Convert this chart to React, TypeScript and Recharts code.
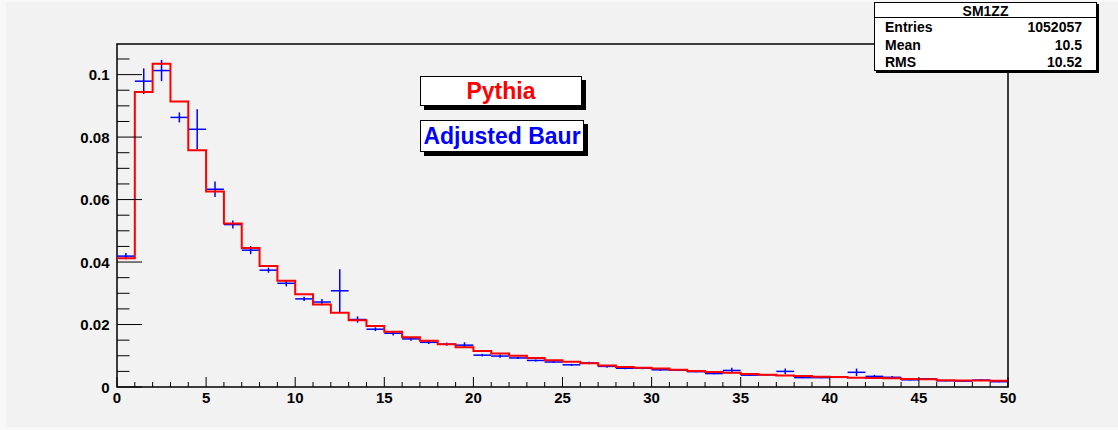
import React from 'react';
import {
  ComposedChart,
  Line,
  Scatter,
  ErrorBar,
  XAxis,
  YAxis,
  ReferenceArea,
} from 'recharts';

// bin contents, one per unit bin from 0 to 50
const pythia = [
  0.0412, 0.0944, 0.1035, 0.0914, 0.0758, 0.0626, 0.0523, 0.0445, 0.0387, 0.034,
  0.0297, 0.0264, 0.0238, 0.0214, 0.0195, 0.0177, 0.0159, 0.0148, 0.0137, 0.0127,
  0.0115, 0.0107, 0.01, 0.0093, 0.0086, 0.0081, 0.0076, 0.0069, 0.0064, 0.0062,
  0.0059, 0.0055, 0.0051, 0.0048, 0.0046, 0.0042, 0.0039, 0.0037, 0.0035, 0.0033,
  0.0032, 0.003, 0.0029, 0.0028, 0.0026, 0.0025, 0.0022, 0.0021, 0.0021, 0.002,
];

const baur = [
  0.0419, 0.0979, 0.1013, 0.0863, 0.0825, 0.0633, 0.052, 0.0438, 0.0374, 0.0332,
  0.0282, 0.0272, 0.0308, 0.0216, 0.0185, 0.0172, 0.0154, 0.0143, 0.0137, 0.0134,
  0.0102, 0.0099, 0.0093, 0.0085, 0.008, 0.0071, 0.0077, 0.0066, 0.006, 0.006,
  0.0055, 0.0054, 0.0049, 0.0043, 0.0053, 0.0038, 0.0039, 0.005, 0.003, 0.003,
  0.0031, 0.0047, 0.0034, 0.0031, 0.0023, 0.0026, 0.002, 0.0019, 0.0022, 0.0017,
];

const baurErr = [
  0.001, 0.0041, 0.0034, 0.0016, 0.0064, 0.0025, 0.0013, 0.0013, 0.0008, 0.001,
  0.0007, 0.001, 0.0069, 0.001, 0.0006, 0.0007, 0.0006, 0.0005, 0.0005, 0.0009,
  0.0004, 0.0005, 0.0003, 0.0003, 0.0003, 0.0003, 0.0004, 0.0004, 0.0003, 0.0003,
  0.0003, 0.0003, 0.0002, 0.0002, 0.0009, 0.0002, 0.0002, 0.0009, 0.0002, 0.0002,
  0.0002, 0.0012, 0.0005, 0.0004, 0.0002, 0.0002, 0.0002, 0.0002, 0.0003, 0.0002,
];

const xMajorTicks = [0, 5, 10, 15, 20, 25, 30, 35, 40, 45, 50];
const yMajorTicks = [0, 0.02, 0.04, 0.06, 0.08, 0.1];

const statLabels = ['Entries', 'Mean', 'RMS'];
const statValues = ['1052057', '10.5', '10.52'];

const X_MAX = 50;
const Y_MAX = 0.1098;
const FONT = '"Liberation Sans", Arial, sans-serif';

// histogram edges for the step line (last edge repeats the last bin)
const pythiaSteps = [...pythia, pythia[pythia.length - 1]].map((v, i) => ({ x: i, y: v }));
const baurPoints = baur.map((v, i) => ({ x: i + 0.5, y: v, ex: 0.5, ey: baurErr[i] }));

const xTicks = Array.from({ length: 51 }, (_, i) => i);
const yTicks = Array.from({ length: 22 }, (_, i) => (i * 5) / 1000);

const XTick = (props: any) => {
  const { x, y, payload } = props;
  const major = xMajorTicks.includes(payload.value);
  return (
    <g>
      <line x1={x} y1={y} x2={x} y2={y - (major ? 10 : 5)} stroke="#000" strokeWidth={1} />
      {major && (
        <text x={x} y={y + 16} textAnchor="middle" fontFamily={FONT} fontWeight="bold" fontSize={15} fill="#000">
          {payload.value}
        </text>
      )}
    </g>
  );
};

const YTick = (props: any) => {
  const { x, y, payload } = props;
  const major = yMajorTicks.some((t) => Math.abs(t - payload.value) < 1e-9);
  return (
    <g>
      <line x1={x} y1={y} x2={x + (major ? 25 : 12.5)} y2={y} stroke="#000" strokeWidth={1} />
      {major && (
        <text x={x - 7.5} y={y + 5.5} textAnchor="end" fontFamily={FONT} fontWeight="bold" fontSize={15} fill="#000">
          {String(payload.value)}
        </text>
      )}
    </g>
  );
};

const legendBox = (label: string, color: string, top: number, width: number, height: number) => (
  <div
    style={{
      position: 'absolute',
      left: 420,
      top,
      width,
      height,
      boxSizing: 'border-box',
      background: '#fff',
      border: '1px solid #000',
      boxShadow: '4px 4px 0 #000',
      color,
      fontFamily: FONT,
      fontWeight: 'bold',
      fontSize: 23,
      lineHeight: `${height - 2}px`,
      textAlign: 'center',
      whiteSpace: 'nowrap',
    }}
  >
    {label}
  </div>
);

export default function App() {
  return (
    <div style={{ position: 'absolute', left: 0, top: 0, width: 1118, height: 430, background: '#f8f8f8' }}>
      <div style={{ position: 'absolute', left: 6, top: 2, width: 1112, height: 425, background: '#f2f2f2' }} />
      <div style={{ position: 'absolute', left: 0, top: 0 }}>
        <ComposedChart width={1118} height={430} margin={{ top: 44, right: 110, left: 0, bottom: 0 }}>
          <XAxis
            dataKey="x"
            type="number"
            domain={[0, X_MAX]}
            ticks={xTicks}
            interval={0}
            allowDataOverflow
            axisLine={false}
            tickLine={false}
            tickSize={0}
            tickMargin={0}
            height={43}
            tick={<XTick />}
          />
          <YAxis
            type="number"
            domain={[0, Y_MAX]}
            ticks={yTicks}
            interval={0}
            allowDataOverflow
            axisLine={false}
            tickLine={false}
            tickSize={0}
            tickMargin={0}
            width={117}
            tick={<YTick />}
          />
          <ReferenceArea
            x1={0}
            x2={X_MAX}
            y1={0}
            y2={Y_MAX}
            fill="none"
            fillOpacity={0}
            stroke="#000"
            strokeWidth={1.5}
            ifOverflow="visible"
          />
          <Scatter data={baurPoints} dataKey="y" isAnimationActive={false} shape={() => <g />}>
            <ErrorBar dataKey="ex" direction="x" width={0} stroke="#0000ff" strokeWidth={1.5} />
            <ErrorBar dataKey="ey" direction="y" width={0} stroke="#0000ff" strokeWidth={1.5} />
          </Scatter>
          <Line
            data={pythiaSteps}
            dataKey="y"
            type="stepAfter"
            stroke="#ff0000"
            strokeWidth={2}
            dot={false}
            activeDot={false}
            isAnimationActive={false}
          />
        </ComposedChart>
      </div>

      {legendBox('Pythia', '#ff0000', 76, 162, 30)}
      {legendBox('Adjusted Baur', '#0000ff', 120, 164, 32)}

      <div
        style={{
          position: 'absolute',
          left: 874,
          top: 2,
          width: 223,
          height: 69,
          boxSizing: 'border-box',
          background: '#fff',
          border: '1px solid #000',
          boxShadow: '2px 2px 0 #000',
          fontFamily: FONT,
          fontWeight: 'bold',
          fontSize: 14,
          color: '#000',
        }}
      >
        <div style={{ position: 'absolute', left: 0, top: 0, width: '100%', height: 14, lineHeight: '16px', textAlign: 'center', borderBottom: '1px solid #000' }}>
          SM1ZZ
        </div>
        {statLabels.map((label, i) => (
          <div
            key={label}
            style={{ position: 'absolute', left: 10, right: 14, top: 16 + i * 17.5, height: 17, lineHeight: '17px', display: 'flex', justifyContent: 'space-between' }}
          >
            <span>{label}</span>
            <span>{statValues[i]}</span>
          </div>
        ))}
      </div>
    </div>
  );
}
